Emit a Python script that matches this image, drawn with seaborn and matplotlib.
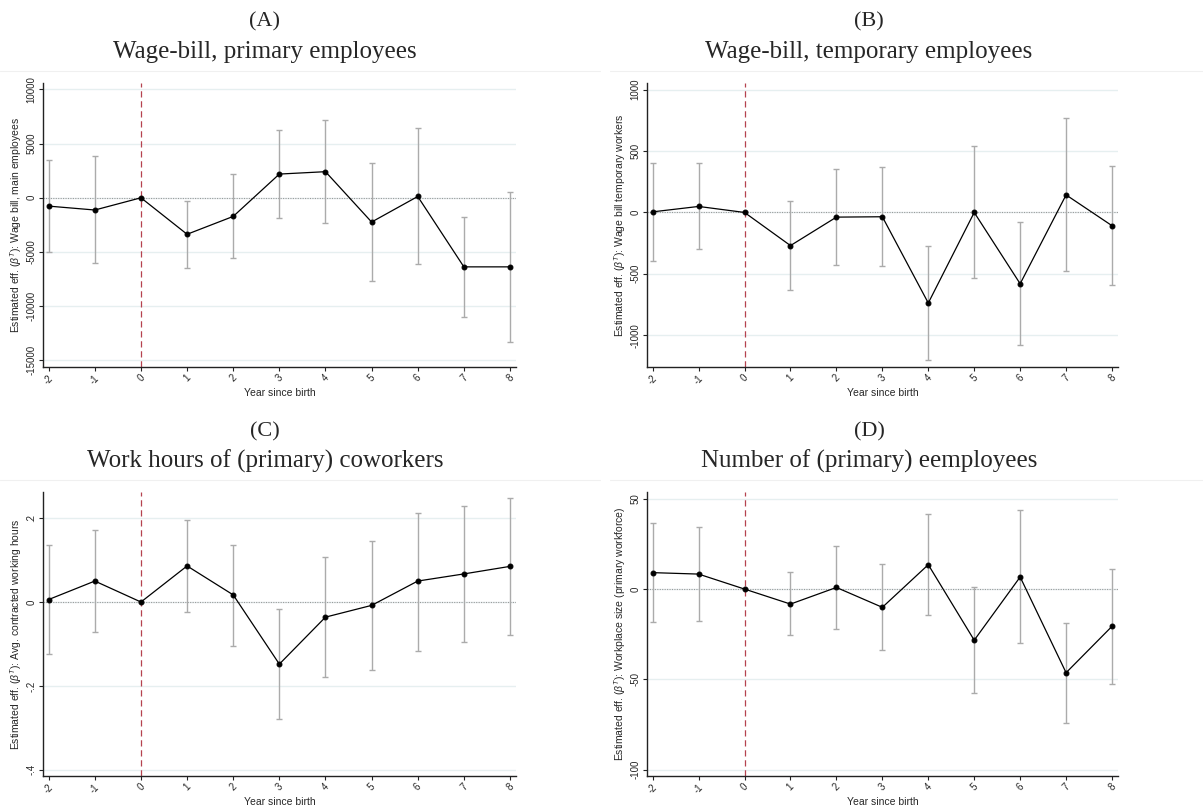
import matplotlib
matplotlib.use("Agg")
import matplotlib.pyplot as plt
from matplotlib.lines import Line2D
import seaborn as sns
import pandas as pd

years = [-2, -1, 0, 1, 2, 3, 4, 5, 6, 7, 8]

# Panel A: wage bill, main employees
a_est = [-770, -1130, 0, -3370, -1720, 2190, 2410, -2240, 120, -6380, -6380]
a_lo = [-5030, -6040, 0, -6470, -5580, -1900, -2300, -7700, -6100, -10980, -13280]
a_hi = [3520, 3830, 0, -280, 2160, 6300, 7220, 3240, 6420, -1750, 550]

# Panel B: wage bill, temporary workers
b_est = [5, 49, 0, -270, -38, -35, -738, 0, -581, 143, -108]
b_lo = [-395, -300, 0, -635, -432, -438, -1205, -535, -1084, -481, -595]
b_hi = [407, 399, 0, 95, 358, 374, -270, 541, -81, 770, 380]

# Panel C: avg. contracted working hours
c_est = [0.006, 0.050, 0.0, 0.086, 0.017, -0.148, -0.036, -0.008, 0.050, 0.067, 0.085]
c_lo = [-0.125, -0.071, 0.0, -0.023, -0.105, -0.280, -0.178, -0.161, -0.116, -0.095, -0.078]
c_hi = [0.137, 0.171, 0.0, 0.195, 0.136, -0.016, 0.108, 0.146, 0.213, 0.228, 0.248]

# Panel D: workplace size
d_est = [9.1, 8.3, 0.0, -8.3, 0.9, -10.1, 13.5, -28.3, 6.7, -46.3, -20.6]
d_lo = [-18.0, -17.6, 0.0, -25.4, -21.9, -33.6, -14.2, -57.7, -29.9, -73.9, -52.4]
d_hi = [36.3, 34.3, 0.0, 9.3, 23.9, 13.9, 41.3, 1.1, 43.5, -18.8, 11.1]

panel_letters = ["(A)", "(B)", "(C)", "(D)"]
panel_titles = ["Wage-bill, primary employees", "Wage-bill, temporary employees",
                "Work hours of (primary) coworkers", "Number of (primary) eemployees"]
ylabels = [r"Estimated eff. ($\beta^{T}$): Wage bill, main employees",
           r"Estimated eff. ($\beta^{T}$): Wage bill temporary workers",
           r"Estimated eff. ($\beta^{T}$): Avg. contracted working hours",
           r"Estimated eff. ($\beta^{T}$): Workplace size (primary workforce)"]
yticks = [[-15000, -10000, -5000, 0, 5000, 10000],
          [-1000, -500, 0, 500, 1000],
          [-0.4, -0.2, 0, 0.2],
          [-100, -50, 0, 50]]
yticklabels = [["-15000", "-10000", "-5000", "0", "5000", "10000"],
               ["-1000", "-500", "0", "500", "1000"],
               ["-.4", "-.2", "0", ".2"],
               ["-100", "-50", "0", "50"]]
ylims = [(-15600, 10600), (-1257, 1055), (-0.414, 0.263), (-103.3, 53.9)]
xlabel = "Year since birth"

sns.set_theme(style="white")
plt.rcParams['font.family'] = ['Liberation Sans', 'DejaVu Sans']
plt.rcParams['mathtext.fontset'] = 'custom'
plt.rcParams['mathtext.rm'] = 'Liberation Sans'
plt.rcParams['mathtext.it'] = 'Liberation Sans:italic'

W, H = 1203, 810
fig = plt.figure(figsize=(W / 100, H / 100), dpi=100)

# positions in pixels: (left, top, right, bottom)
boxes = [(42.7, 83, 516, 366.7), (646.7, 83, 1118, 366.7),
         (42.7, 491.7, 516, 775.7), (646.7, 491.7, 1118, 775.7)]
title_x = [265, 869, 265, 869]
title_y = [(21.7, 51.7), (21.7, 51.7), (431.7, 461.7), (431.7, 461.7)]
sep_lines = [(0, 600, 71), (610, 1203, 71), (0, 600, 479.5), (610, 1203, 479.5)]

ests = [a_est, b_est, c_est, d_est]
los = [a_lo, b_lo, c_lo, d_lo]
his = [a_hi, b_hi, c_hi, d_hi]

for i in range(4):
    l, t, r, b = boxes[i]
    ax = fig.add_axes([l / W, 1 - b / H, (r - l) / W, (b - t) / H])
    df = pd.DataFrame({"year": years, "est": ests[i], "lo": los[i], "hi": his[i]})
    ax.set_xlim(-2.13, 8.13)
    ax.set_ylim(*ylims[i])
    ax.set_yticks(yticks[i])
    ax.set_yticklabels(yticklabels[i], rotation=90, va="center", fontsize=7)
    ax.set_xticks(years)
    ax.set_xticklabels([str(y) for y in years], rotation=45, fontsize=7,
                       ha="center", va="top")
    ax.grid(axis="y", color="#e6eff0", lw=1.0)
    ax.set_axisbelow(True)
    # zero reference lines
    ax.axhline(0, color="#9a9a9a", lw=0.8, ls=(0, (1, 1.2)), zorder=1)
    ax.axvline(0, color="#b5424f", lw=0.9, ls=(0, (5, 3)), zorder=2)
    # confidence intervals
    ax.errorbar(df["year"], df["est"],
                yerr=[df["est"] - df["lo"], df["hi"] - df["est"]],
                fmt="none", ecolor="#ababab", elinewidth=1.0, capsize=2.5,
                capthick=1.0, zorder=3)
    sns.lineplot(data=df, x="year", y="est", ax=ax, color="black", lw=0.9,
                 marker="o", markersize=3.5, markeredgecolor="black",
                 markerfacecolor="black", zorder=4)
    ax.set_xlabel(xlabel, fontsize=7.5, labelpad=1)
    ax.set_ylabel(ylabels[i], fontsize=7.5, labelpad=2)
    for s in ["top", "right"]:
        ax.spines[s].set_visible(False)
    for s in ["left", "bottom"]:
        ax.spines[s].set_color("#222222")
        ax.spines[s].set_linewidth(1.0)
    ax.tick_params(axis="both", which="both", direction="out", length=3,
                   width=0.8, color="#222222", pad=1.5, left=True, bottom=True)

    fig.text(title_x[i] / W, 1 - title_y[i][0] / H, panel_letters[i],
             family=["Liberation Serif"], fontsize=16, ha="center", va="center")
    fig.text(title_x[i] / W, 1 - title_y[i][1] / H, panel_titles[i],
             family=["Liberation Serif"], fontsize=18, ha="center", va="center")
    x0, x1, yy = sep_lines[i]
    fig.add_artist(Line2D([x0 / W, x1 / W], [1 - yy / H, 1 - yy / H],
                          color="#f0f0f0", lw=0.8))

fig.savefig("out.png", dpi=100)
